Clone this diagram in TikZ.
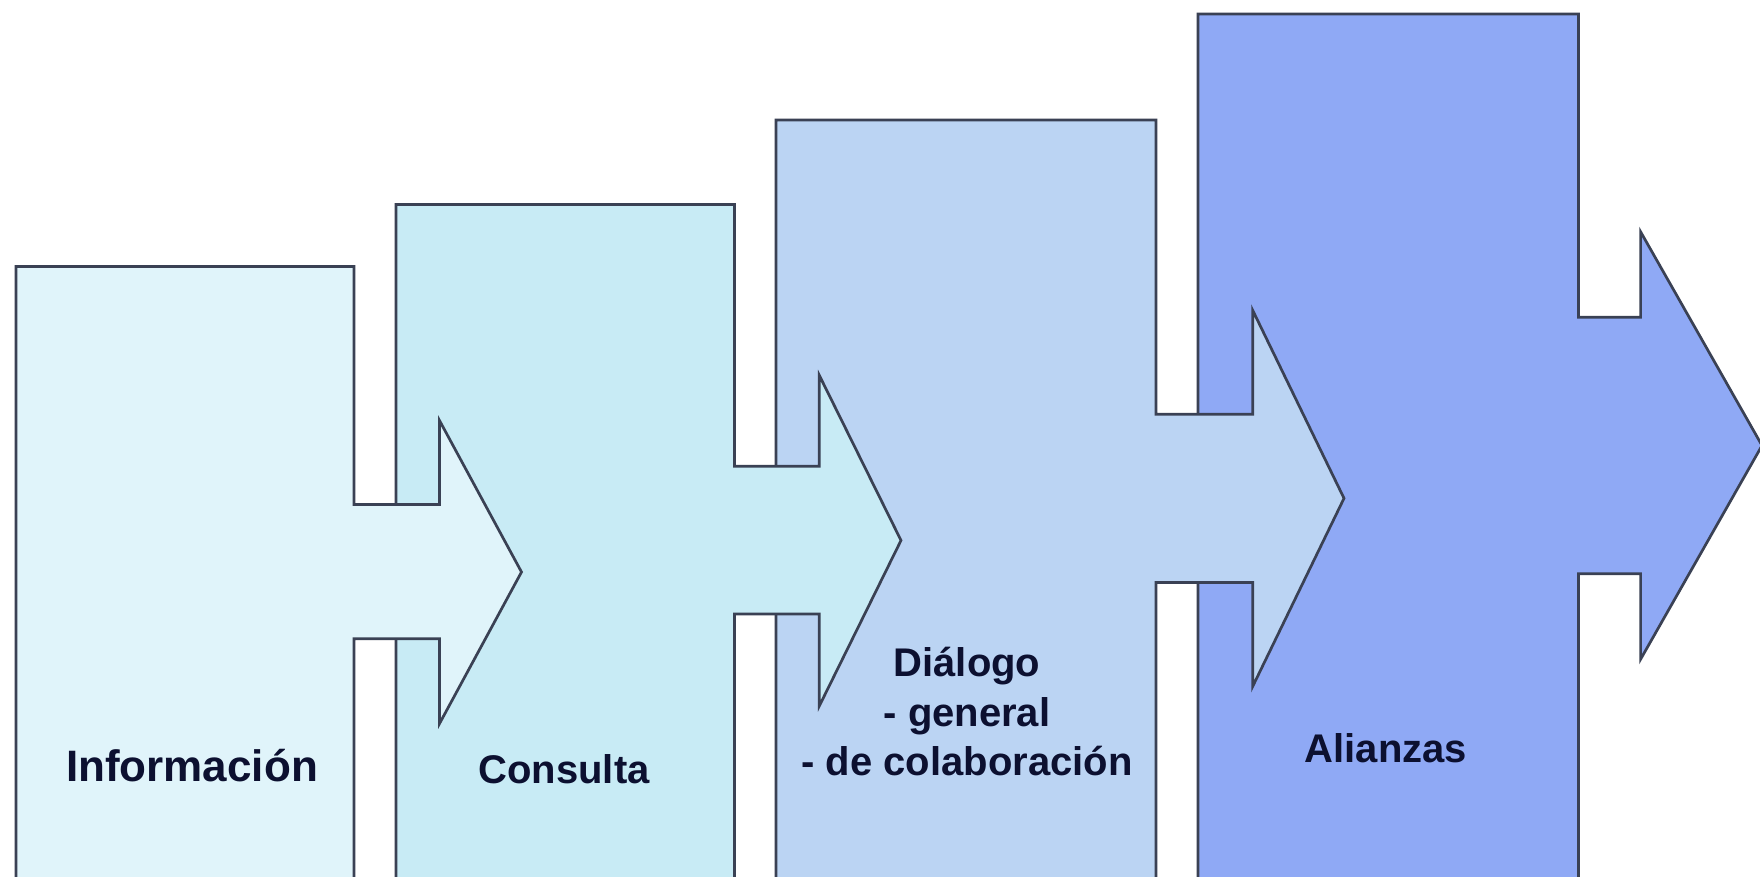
\documentclass[tikz,border=0pt]{standalone}
\usepackage{fontspec}
\setmainfont{Liberation Sans}
\begin{document}
\begin{tikzpicture}[x=1pt,y=-1pt,
  stageshape/.style={draw=edgecol, line width=2.7pt, line join=miter},
  stagelabel/.style={text=labelcol, font=\bfseries\fontsize{40}{49.5}\selectfont, align=center, inner sep=0pt, anchor=base}]
\definecolor{edgecol}{HTML}{3A4154}
\definecolor{labelcol}{HTML}{0C1030}
\definecolor{fillA}{HTML}{E0F4FA}
\definecolor{fillB}{HTML}{C8EBF5}
\definecolor{fillC}{HTML}{BBD4F3}
\definecolor{fillD}{HTML}{8FA9F5}
\useasboundingbox (0,0) rectangle (1760,876);
\clip (0,0) rectangle (1760,876);
\fill[white] (0,0) rectangle (1760,876);
% stage 4
\draw[stageshape, fill=fillD] (1198,890) -- (1198,14) -- (1578.5,14) -- (1578.5,317.3) -- (1640.6,317.3) -- (1640.6,231.8) -- (1762,445.5) -- (1640.6,659.2) -- (1640.6,573.7) -- (1578.5,573.7) -- (1578.5,890) -- cycle;
% stage 3
\draw[stageshape, fill=fillC] (776,890) -- (776,120) -- (1156,120) -- (1156,414.2) -- (1252.7,414.2) -- (1252.7,310.3) -- (1344,498.3) -- (1252.7,686.4) -- (1252.7,582.4) -- (1156,582.4) -- (1156,890) -- cycle;
% stage 2
\draw[stageshape, fill=fillB] (396,890) -- (396,204.5) -- (734.5,204.5) -- (734.5,466.3) -- (819.3,466.3) -- (819.3,375.3) -- (901,540.4) -- (819.3,706) -- (819.3,614) -- (734.5,614) -- (734.5,890) -- cycle;
% stage 1
\draw[stageshape, fill=fillA] (16,890) -- (16,266.4) -- (354,266.4) -- (354,504.5) -- (439.5,504.5) -- (439.5,420.5) -- (521.5,572) -- (439.5,723.6) -- (439.5,638.8) -- (354,638.8) -- (354,890) -- cycle;
% labels
\node[stagelabel, font=\bfseries\fontsize{44}{50}\selectfont] (info) at (192,781.5) {Información};
\node[stagelabel] (cons) at (564,783.6) {Consulta};
\node[stagelabel] (dial1) at (967,676.4) {Diálogo};
\node[stagelabel] (dial2) at (967,726) {- general};
\node[stagelabel] (dial3) at (967,775.4) {- de colaboración};
\node[stagelabel] (alia) at (1386,762.6) {Alianzas};
\end{tikzpicture}
\end{document}
